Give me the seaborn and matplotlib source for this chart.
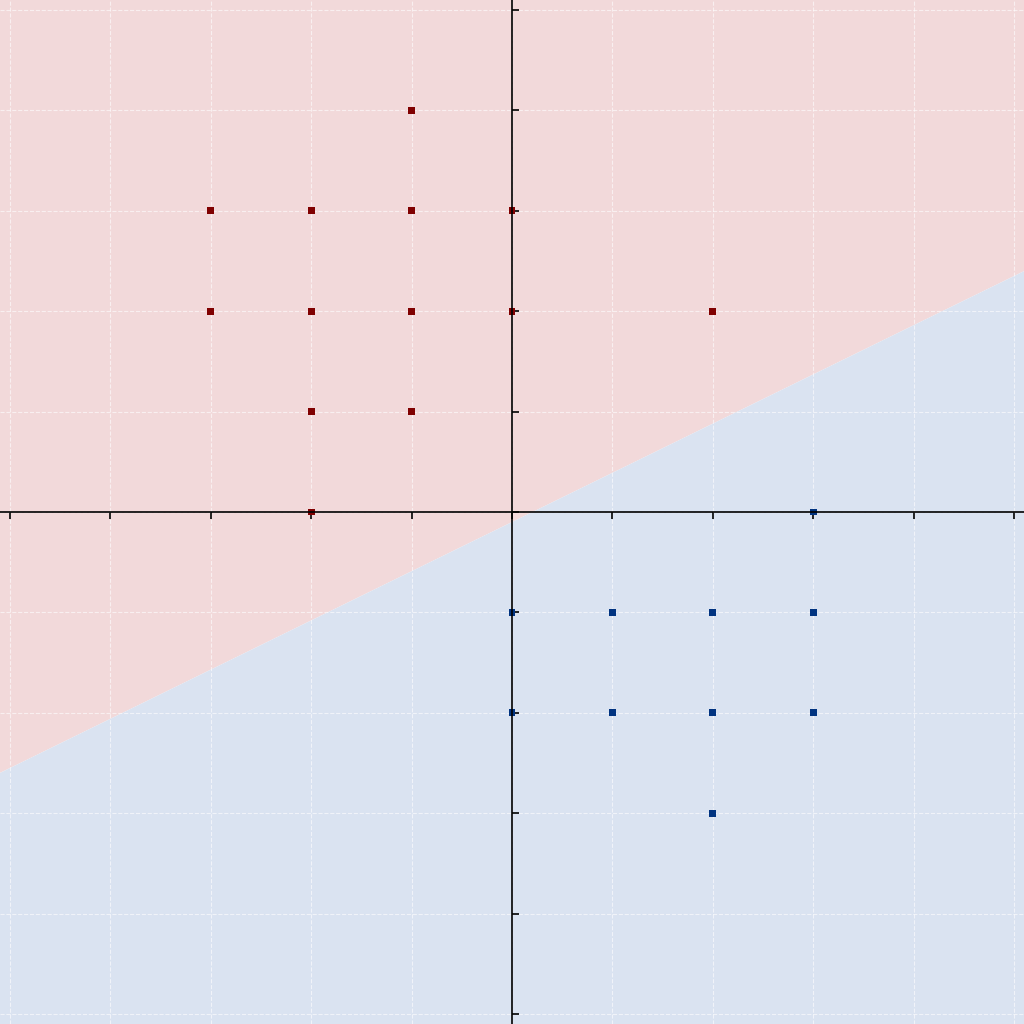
import numpy as np
import pandas as pd
import seaborn as sns
import matplotlib
matplotlib.use('Agg')
import matplotlib.pyplot as plt

# class +1 (red) and class -1 (blue) training points
red_x = [-1, -3, -2, -1, 0, -3, -2, -1, 0, 2, -2, -1, -2]
red_y = [4, 3, 3, 3, 3, 2, 2, 2, 2, 2, 1, 1, 0]
blue_x = [3, 0, 1, 2, 3, 0, 1, 2, 3, 2]
blue_y = [0, -1, -1, -1, -1, -2, -2, -2, -2, -3]

# decision boundary y = slope * x + intercept
slope = 0.49
intercept = -0.10

lim = 5.1
ticks = list(range(-5, 6))

df = pd.DataFrame({
    'x': red_x + blue_x,
    'y': red_y + blue_y,
    'label': ['red'] * len(red_x) + ['blue'] * len(blue_x),
})

fig = plt.figure(figsize=(10.24, 10.24), dpi=100)
ax = fig.add_axes([0, 0, 1, 1])

xs = np.array([-lim, lim])
ys = slope * xs + intercept
ax.fill_between(xs, ys, lim, color='#f2d9da', linewidth=0, zorder=0)
ax.fill_between(xs, -lim, ys, color='#dae3f1', linewidth=0, zorder=0)

sns.scatterplot(data=df, x='x', y='y', hue='label', marker='s', s=24,
                palette={'red': '#800000', 'blue': '#003380'},
                linewidth=0, legend=False, ax=ax, zorder=1)

ax.set_xlim(-lim, lim)
ax.set_ylim(-lim, lim)
ax.set_xticks(ticks)
ax.set_yticks(ticks)
ax.set_xticklabels([])
ax.set_yticklabels([])
ax.set_xlabel('')
ax.set_ylabel('')

ax.spines['bottom'].set_position(('data', 0))
ax.spines['right'].set_position(('data', 0))
ax.spines['top'].set_visible(False)
ax.spines['left'].set_visible(False)
for sp in ax.spines.values():
    sp.set_linewidth(1.2)
    sp.set_zorder(3)
ax.yaxis.tick_right()
ax.tick_params(direction='out', length=5, width=1.2)

ax.set_axisbelow(True)
ax.grid(True, color='white', linestyle='--', linewidth=0.8, alpha=0.6)

fig.savefig('out.png', dpi=100)
